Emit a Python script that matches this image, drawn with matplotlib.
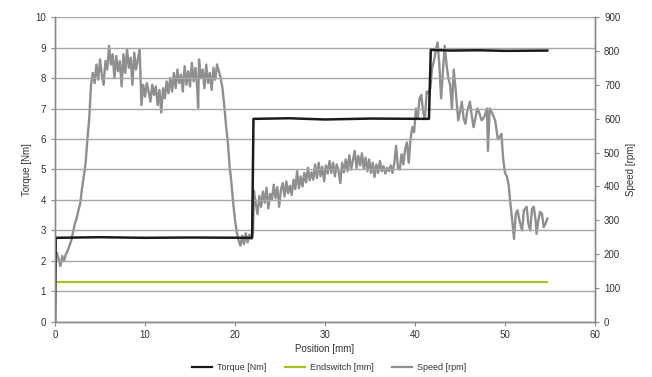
import matplotlib
matplotlib.use("Agg")
import matplotlib.pyplot as plt
from matplotlib.lines import Line2D

# ---- data ----
torque_pos = [0.0, 0.08, 5.0, 10.0, 15.0, 21.9, 22.05, 26.0, 30.0, 35.0, 41.55, 41.75, 44.0, 47.0, 50.0, 54.7]
torque_val = [0.0, 2.76, 2.78, 2.76, 2.77, 2.76, 6.66, 6.68, 6.64, 6.67, 6.66, 8.92, 8.90, 8.91, 8.89, 8.90]

end_pos = [0.0, 54.7]
end_val = [1.32, 1.32]

speed_pos = [0.0, 0.2, 0.4, 0.6, 0.8, 1.0, 1.2, 1.4, 1.6, 1.8, 2.0, 2.2, 2.4, 2.6, 2.8, 3.0, 3.2, 3.4, 3.6, 3.8,
             4.0, 4.2, 4.4, 4.6, 4.8, 5.0, 5.2, 5.4, 5.6, 5.8, 6.0, 6.2, 6.4, 6.6, 6.8, 7.0, 7.2, 7.4, 7.6, 7.8,
             8.0, 8.2, 8.4, 8.6, 8.8, 9.0, 9.2, 9.4, 9.6,
             9.8, 10.0, 10.2, 10.4, 10.6, 10.8, 11.0, 11.2, 11.4, 11.6, 11.8, 12.0, 12.2, 12.4, 12.6, 12.8, 13.0,
             13.2, 13.4, 13.6, 13.8, 14.0, 14.2, 14.4, 14.6, 14.8, 15.0, 15.2, 15.4, 15.6, 15.8, 15.9, 16.0, 16.2,
             16.4, 16.6, 16.8, 17.0, 17.2, 17.4, 17.6, 17.8, 18.0, 18.2,
             18.4, 18.6, 18.8, 19.0, 19.2, 19.4, 19.6, 19.8, 20.0, 20.2, 20.4, 20.6, 20.8, 21.0, 21.2, 21.4, 21.6,
             21.8, 22.0,
             22.1, 22.3, 22.5, 22.7, 22.9, 23.1, 23.3, 23.5, 23.7, 23.9, 24.1, 24.3, 24.5, 24.7, 24.9, 25.1, 25.3,
             25.5, 25.7, 25.9, 26.1, 26.3, 26.5, 26.7, 26.9, 27.1, 27.3, 27.5, 27.7, 27.9, 28.1, 28.3, 28.5, 28.7,
             28.9, 29.1, 29.3, 29.5, 29.7, 29.9, 30.1, 30.3, 30.5, 30.7, 30.9, 31.1, 31.3, 31.5, 31.7, 31.9, 32.1,
             32.3, 32.5, 32.7, 32.9, 33.1, 33.3, 33.5, 33.7, 33.9, 34.1, 34.3, 34.5, 34.7, 34.9, 35.1, 35.3, 35.5,
             35.7, 35.9, 36.1, 36.3, 36.5, 36.7, 36.9, 37.1, 37.3, 37.5, 37.7, 37.9, 38.1, 38.3, 38.5, 38.7, 38.9,
             39.1, 39.3, 39.5, 39.7, 39.9, 40.1, 40.3, 40.5, 40.7, 40.9, 41.1, 41.3, 41.5, 41.7, 41.9, 42.1, 42.3,
             42.5, 42.7, 42.9, 43.1, 43.3, 43.5, 43.7, 43.9, 44.1, 44.3, 44.5, 44.8, 45.0, 45.2, 45.4, 45.6, 45.8,
             46.1, 46.3, 46.5, 46.7, 46.9, 47.1, 47.4, 47.7, 48.0, 48.1, 48.3, 48.6, 48.9, 49.2, 49.4, 49.6, 49.8,
             50.0, 50.2, 50.4, 50.6, 50.8, 51.0, 51.2, 51.4, 51.6, 51.9, 52.1, 52.4, 52.6, 52.8, 53.0, 53.2, 53.4,
             53.5, 53.7, 53.9, 54.1, 54.3, 54.5, 54.7]
speed_rpm = [190, 205, 185, 165, 195, 180, 200, 210, 225, 240, 265, 290, 305, 330, 350, 395, 430, 470, 540, 600,
             700, 735, 705, 760, 715, 775, 730, 700, 770, 745, 815, 760, 790, 720, 785, 740, 770, 695, 790, 735,
             805, 750, 780, 700, 795, 745, 775, 805, 640,
             700, 665, 705, 680, 650, 700, 670, 695, 640, 685, 618, 690, 660, 710, 675, 720, 680,
             735, 690, 745, 705, 730, 680, 755, 700, 740, 695, 765, 710, 750, 690, 632, 775, 720,
             745, 690, 760, 705, 735, 685, 750, 715, 760, 740,
             720, 690, 640, 580, 530, 460, 410, 350, 300, 265, 240, 225, 255, 230, 262, 235, 258,
             245, 265,
             387, 350, 318, 372, 340, 385, 352, 396, 335, 378, 360, 405, 365, 398, 340, 390, 410,
             370, 415, 380, 402, 375, 420, 392, 445, 395, 430, 400, 440, 412, 455, 418, 442, 420,
             465, 425, 470, 430, 458, 415, 462, 438, 475, 440, 470, 430, 465, 445, 410, 470, 442,
             480, 445, 492, 450, 478, 505, 455, 490, 462, 498, 452, 485, 445, 480, 440, 470, 428,
             465, 440, 475, 445, 460, 438, 455, 445, 462, 440, 470, 520, 455, 450, 495, 465, 510,
             530, 470, 540, 575, 560, 630, 600, 660, 670, 620, 600, 680, 675, 690, 750, 770, 800,
             825, 760, 660, 740, 815, 760, 720, 700, 630, 745, 690, 595, 620, 650, 600, 585, 620,
             650, 610, 575, 600, 630, 620, 595, 605, 630, 505, 630, 615, 595, 540, 545, 555, 480,
             440, 430, 405, 350, 300, 245, 320, 330, 300, 270, 330, 340, 290, 270, 335, 340, 300,
             260, 300, 325, 320, 280, 290, 305]

x_ticks = [0, 10, 20, 30, 40, 50, 60]
torque_ticks = list(range(0, 11))
speed_ticks = list(range(0, 1000, 100))

# ---- style ----
FONT = ['Liberation Sans Narrow', 'Liberation Sans', 'DejaVu Sans']
plt.rcParams['font.family'] = FONT
plt.rcParams['font.size'] = 7

c_torque = '#1a1a1a'
c_end = '#a9c21e'
c_speed = '#8f8f8f'
c_grid = '#a6a6a6'
c_spine = '#8a8a8a'
c_text = '#333333'

fig = plt.figure(figsize=(6.52, 3.77), dpi=100)
ax = fig.add_axes([0.0844, 0.1459, 0.8282, 0.809])
ax2 = ax.twinx()

ax.set_xlim(0, 60)
ax.set_ylim(0, 10)
ax2.set_ylim(0, 900)
ax.set_xticks(x_ticks)
ax.set_yticks(torque_ticks)
ax2.set_yticks(speed_ticks)

ax.yaxis.grid(True, color=c_grid, linewidth=1.0)
ax.set_axisbelow(True)

for a in (ax, ax2):
    a.spines['top'].set_visible(False)
    for s in ('left', 'right', 'bottom'):
        a.spines[s].set_color(c_spine)
        a.spines[s].set_linewidth(1.0)
    a.tick_params(colors=c_spine, labelcolor=c_text, length=3, width=0.8, labelsize=7)
ax.tick_params(axis='x', pad=3)

# speed on secondary axis (drawn below torque)
ax2.set_zorder(0)
ax.set_zorder(1)
ax.patch.set_visible(False)
ax2.plot(speed_pos, speed_rpm, color=c_speed, linewidth=1.7, solid_joinstyle='round')
ax.plot(end_pos, end_val, color=c_end, linewidth=1.6)
ax.plot(torque_pos, torque_val, color=c_torque, linewidth=1.8)

ax.set_ylabel('Torque [Nm]', color=c_text, fontsize=7, labelpad=2)
ax2.set_ylabel('Speed [rpm]', color=c_text, fontsize=7, labelpad=4)
ax.set_xlabel('Position [mm]', color=c_text, fontsize=7, labelpad=3)

handles = [Line2D([], [], color=c_torque, linewidth=1.6),
           Line2D([], [], color=c_end, linewidth=1.6),
           Line2D([], [], color=c_speed, linewidth=1.6)]
fig.legend(handles, ['Torque [Nm]', 'Endswitch [mm]', 'Speed [rpm]'], loc='center',
           bbox_to_anchor=(0.505, 0.024), ncol=3, frameon=False, fontsize=6.5,
           handlelength=2.2, columnspacing=2.0, handletextpad=0.6, labelcolor=c_text)

fig.savefig('out.png', dpi=100)
